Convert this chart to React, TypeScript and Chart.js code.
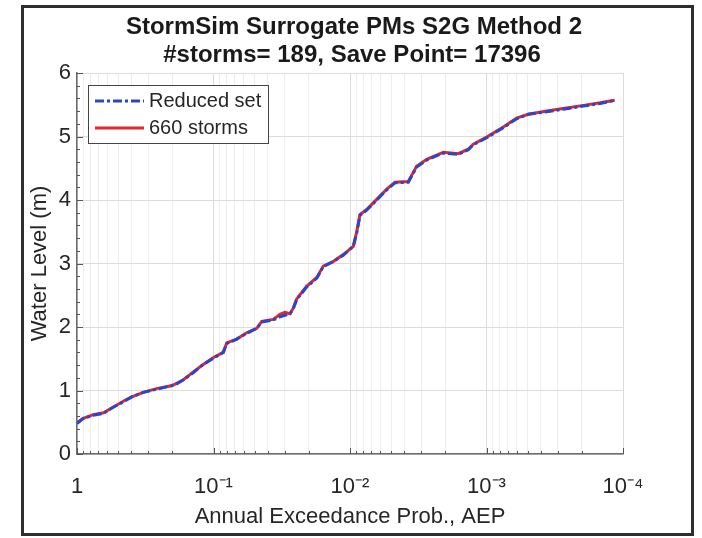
import React, { useEffect, useRef } from "react";
import { Chart, registerables } from "chart.js";

Chart.register(...registerables);

const titleLines = ["StormSim Surrogate PMs S2G Method 2", "#storms= 189, Save Point= 17396"];
const xAxisTitle = "Annual Exceedance Prob., AEP";
const yAxisTitle = "Water Level (m)";
const seriesLabels = ["Reduced set", "660 storms"];

const aepReduced = [
  1.0, 0.9, 0.76, 0.64, 0.54, 0.458, 0.397, 0.327, 0.261, 0.208, 0.191, 0.166, 0.141, 0.119,
  0.1, 0.0848, 0.08, 0.0676, 0.0571, 0.0482, 0.0443, 0.0365, 0.0326, 0.0275, 0.026, 0.0246,
  0.0208, 0.0175, 0.0157, 0.0133, 0.0112, 0.00946, 0.00893, 0.00845, 0.00755, 0.00637, 0.00538,
  0.00468, 0.00374, 0.00325, 0.00274, 0.00207, 0.00161, 0.00136, 0.00125, 0.000997, 0.000753,
  0.000601, 0.000494, 0.000362, 0.000274, 0.000195, 0.000147, 0.000115,
];
const levelReduced = [
  0.48, 0.56, 0.61, 0.64, 0.74, 0.82, 0.9, 0.97, 1.02, 1.07, 1.09, 1.17, 1.28, 1.41,
  1.51, 1.6, 1.74, 1.81, 1.9, 1.98, 2.08, 2.11, 2.16, 2.21, 2.29, 2.43,
  2.63, 2.77, 2.95, 3.03, 3.13, 3.27, 3.48, 3.76, 3.84, 4.0, 4.16,
  4.27, 4.28, 4.52, 4.63, 4.74, 4.72, 4.79, 4.87, 4.98, 5.14,
  5.28, 5.35, 5.39, 5.43, 5.48, 5.52, 5.57,
];

const aep660 = [
  1.0, 0.9, 0.76, 0.64, 0.54, 0.458, 0.397, 0.327, 0.261, 0.208, 0.191, 0.166, 0.141, 0.119,
  0.1, 0.0848, 0.08, 0.0676, 0.0571, 0.0482, 0.0443, 0.0365, 0.0326, 0.03, 0.0275, 0.026, 0.0246,
  0.0208, 0.0175, 0.0157, 0.0133, 0.0112, 0.00946, 0.00893, 0.00845, 0.00755, 0.00637, 0.00538,
  0.00468, 0.00374, 0.00325, 0.00274, 0.00207, 0.00161, 0.00136, 0.00125, 0.000997, 0.000753,
  0.000601, 0.000494, 0.000362, 0.000274, 0.000195, 0.000147, 0.000115,
];
const level660 = [
  0.49, 0.56, 0.62, 0.65, 0.74, 0.83, 0.9, 0.97, 1.03, 1.07, 1.1, 1.17, 1.29, 1.41,
  1.52, 1.6, 1.75, 1.81, 1.91, 1.98, 2.09, 2.12, 2.2, 2.23, 2.21, 2.3, 2.44,
  2.64, 2.78, 2.96, 3.03, 3.14, 3.27, 3.5, 3.77, 3.85, 4.01, 4.17,
  4.28, 4.29, 4.53, 4.64, 4.75, 4.73, 4.8, 4.88, 4.99, 5.15,
  5.29, 5.35, 5.4, 5.44, 5.49, 5.53, 5.57,
];

const xTickValues = [1, 0.1, 0.01, 0.001, 0.0001];
const xTickLabels = ["1", "10⁻¹", "10⁻²", "10⁻³", "10⁻⁴"];
const yTickValues = [0, 1, 2, 3, 4, 5, 6];

const FONT = "'Liberation Sans', Arial, Helvetica, sans-serif";
const TEXT = "#262626";
const BLUE = "#2b46c6";
const RED = "#e2262d";
const BLUE_DASH = [9, 3, 3, 3];

function allXTicks(): number[] {
  const out: number[] = [];
  for (let e = -4; e <= 0; e++) {
    const base = Math.pow(10, e);
    const maxM = e === 0 ? 1 : 9;
    for (let m = 1; m <= maxM; m++) out.push(parseFloat((m * base).toPrecision(6)));
  }
  return out;
}

function isMajorX(v: number) {
  const l = Math.log10(v);
  return Math.abs(l - Math.round(l)) < 1e-6;
}

function xLabel(v: number) {
  for (let i = 0; i < xTickValues.length; i++) {
    if (Math.abs(v - xTickValues[i]) / xTickValues[i] < 1e-6) return xTickLabels[i];
  }
  return "";
}

const decorPlugin = {
  id: "decor",
  beforeDraw(chart: any) {
    const { ctx, width, height } = chart;
    ctx.save();
    ctx.fillStyle = "#ffffff";
    ctx.fillRect(0, 0, width, height);
    ctx.restore();
  },
  afterDraw(chart: any) {
    const { ctx, chartArea: a, scales } = chart;
    ctx.save();
    // inner tick marks
    ctx.strokeStyle = "#555555";
    ctx.lineWidth = 1;
    ctx.beginPath();
    for (const v of allXTicks()) {
      const px = Math.round(scales.x.getPixelForValue(v)) + 0.5;
      ctx.moveTo(px, a.bottom);
      ctx.lineTo(px, a.bottom - (isMajorX(v) ? 6 : 3));
    }
    for (let k = 0; k <= 30; k++) {
      const v = k * 0.2;
      const py = Math.round(scales.y.getPixelForValue(v)) + 0.5;
      ctx.moveTo(a.left, py);
      ctx.lineTo(a.left + (k % 5 === 0 ? 6 : 3), py);
    }
    ctx.stroke();

    // title
    ctx.fillStyle = "#1a1a1a";
    ctx.font = `bold 24px ${FONT}`;
    ctx.textAlign = "center";
    ctx.textBaseline = "middle";
    ctx.fillText(titleLines[0], 354, 27);
    ctx.fillText(titleLines[1], 352, 55);

    // legend box
    const lx = 88, ly = 85, lw = 180, lh = 58;
    ctx.fillStyle = "#ffffff";
    ctx.fillRect(lx, ly, lw, lh);
    ctx.strokeStyle = "#444444";
    ctx.lineWidth = 1;
    ctx.strokeRect(lx + 0.5, ly + 0.5, lw, lh);
    const rows = [101, 128];
    const colors = [BLUE, RED];
    const dashes = [BLUE_DASH, []];
    for (let i = 0; i < 2; i++) {
      ctx.beginPath();
      ctx.setLineDash(dashes[i]);
      ctx.strokeStyle = colors[i];
      ctx.lineWidth = 3;
      ctx.moveTo(95, rows[i]);
      ctx.lineTo(144, rows[i]);
      ctx.stroke();
      ctx.setLineDash([]);
      ctx.fillStyle = TEXT;
      ctx.font = `20px ${FONT}`;
      ctx.textAlign = "left";
      ctx.textBaseline = "middle";
      ctx.fillText(seriesLabels[i], 149, rows[i]);
    }

    // figure frame
    ctx.strokeStyle = "#2e2e2e";
    ctx.lineWidth = 3;
    ctx.strokeRect(22.5, 6.5, 670, 528);
    ctx.restore();
  },
};

export default function App() {
  const ref = useRef<HTMLCanvasElement>(null);
  useEffect(() => {
    document.body.style.margin = "0";
    const canvas = ref.current!;
    const chart = new Chart(canvas, {
      type: "line",
      data: {
        datasets: [
          {
            label: seriesLabels[0],
            data: aepReduced.map((x, i) => ({ x, y: levelReduced[i] })),
            borderColor: BLUE,
            borderWidth: 3,
            borderDash: BLUE_DASH,
            pointRadius: 0,
            tension: 0,
            fill: false,
          },
          {
            label: seriesLabels[1],
            data: aep660.map((x, i) => ({ x, y: level660[i] })),
            borderColor: RED,
            borderWidth: 3,
            pointRadius: 0,
            tension: 0,
            fill: false,
          },
        ],
      },
      options: {
        responsive: false,
        animation: false,
        devicePixelRatio: 1,
        layout: { padding: { left: 25, right: 79, top: 73, bottom: 8 } },
        plugins: {
          legend: { display: false },
          title: { display: false },
          tooltip: { enabled: false },
        },
        scales: {
          x: {
            type: "logarithmic",
            reverse: true,
            min: 0.0001,
            max: 1,
            afterBuildTicks: (s: any) => {
              s.ticks = allXTicks().map((v) => ({ value: v }));
            },
            afterFit: (s: any) => {
              s.height = 76;
            },
            ticks: {
              autoSkip: false,
              maxRotation: 0,
              minRotation: 0,
              padding: 20,
              color: TEXT,
              font: { family: FONT, size: 22 },
              callback: (v: any) => xLabel(Number(v)),
            },
            grid: {
              drawTicks: false,
              lineWidth: 1,
              color: (c: any) => (c.tick && isMajorX(c.tick.value) ? "#dcdcdc" : "#ededed"),
            },
            border: { color: "#6b6b6b", width: 1.5 },
            title: {
              display: true,
              text: xAxisTitle,
              color: TEXT,
              font: { family: FONT, size: 22 },
              padding: { top: 0, bottom: 0 },
            },
          },
          y: {
            type: "linear",
            min: 0,
            max: 6,
            afterBuildTicks: (s: any) => {
              s.ticks = yTickValues.map((v) => ({ value: v }));
            },
            afterFit: (s: any) => {
              s.width = 52;
            },
            ticks: {
              padding: 6,
              color: TEXT,
              font: { family: FONT, size: 22 },
            },
            grid: { drawTicks: false, lineWidth: 1, color: "#dcdcdc" },
            border: { color: "#6b6b6b", width: 1.5 },
            title: {
              display: true,
              text: yAxisTitle,
              color: TEXT,
              font: { family: FONT, size: 22 },
              padding: { top: 2, bottom: 0 },
            },
          },
        },
      },
      plugins: [decorPlugin],
    });
    return () => chart.destroy();
  }, []);
  return (
    <canvas
      ref={ref}
      width={702}
      height={538}
      style={{ display: "block", width: "702px", height: "538px" }}
    />
  );
}
